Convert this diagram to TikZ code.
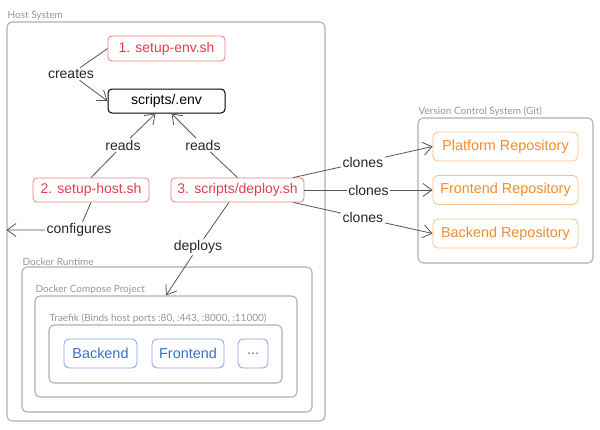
\documentclass[tikz,border=0pt]{standalone}
\usepackage{fontspec}
\setmainfont[Ligatures=NoCommon]{Liberation Sans}
\newfontfamily\boxfont{Lato}
\usetikzlibrary{arrows.meta, positioning}

\definecolor{scriptcolor}{RGB}{226,62,72}
\definecolor{scriptborder}{RGB}{238,125,130}
\definecolor{repocolor}{RGB}{240,140,45}
\definecolor{repoborder}{RGB}{250,190,140}
\definecolor{svccolor}{RGB}{58,110,192}
\definecolor{svcborder}{RGB}{130,160,220}
\definecolor{boxline}{RGB}{175,175,175}
\definecolor{boxtext}{RGB}{150,150,150}
\definecolor{edgecolor}{RGB}{85,85,85}

\begin{document}
\begin{tikzpicture}[
    x=1pt, y=-1pt,
    cont/.style={draw=boxline, line width=1.1pt, rounded corners=5pt, inner sep=0pt},
    contlabel/.style={anchor=south west, inner sep=1pt, text=boxtext, font=\boxfont\fontsize{10}{12}\selectfont},
    script/.style={draw=scriptborder, line width=0.8pt, rounded corners=4pt, text=scriptcolor, inner sep=0pt, font=\fontsize{14}{16}\selectfont},
    envbox/.style={draw=black, line width=1pt, rounded corners=4pt, inner sep=0pt, font=\fontsize{14}{16}\selectfont},
    repo/.style={draw=repoborder, line width=0.8pt, rounded corners=5pt, text=repocolor, inner sep=0pt, minimum width=145pt, minimum height=29pt, font=\fontsize{14.4}{16}\selectfont},
    svc/.style={draw=svcborder, line width=0.8pt, rounded corners=5pt, text=svccolor, inner sep=0pt, minimum height=29pt, font=\fontsize{14.4}{16}\selectfont},
    lbl/.style={inner sep=1.5pt, text=black!85, font=\fontsize{14}{16}\selectfont},
    edge/.style={draw=edgecolor, line width=0.8pt, -{Straight Barb[length=9pt, width=13pt]}}
]
    \useasboundingbox (0,0) rectangle (600,429);

    % containers
    \node[cont, minimum width=318pt, minimum height=399pt] (host) at (166,221.5) {};
    \node[contlabel] (hostlbl) at (host.north west) {Host System};
    \node[cont, minimum width=175pt, minimum height=145pt] (vcs) at (505.5,190.5) {};
    \node[contlabel] (vcslbl) at (vcs.north west) {Version Control System (Git)};
    \node[cont, minimum width=290pt, minimum height=145pt] (docker) at (167,339.5) {};
    \node[contlabel] (dockerlbl) at (docker.north west) {Docker Runtime};
    \node[cont, minimum width=262pt, minimum height=101pt] (compose) at (166,346.5) {};
    \node[contlabel] (composelbl) at (compose.north west) {Docker Compose Project};
    \node[cont, minimum width=233pt, minimum height=58pt] (traefik) at (165.5,354) {};
    \node[contlabel] (traefiklbl) at (traefik.north west) {Traefik (Binds host ports :80, :443, :8000, :11000)};

    % scripts
    \node[script, minimum width=117pt, minimum height=25pt] (setupenv) at (166.5,48.5) {1. setup-env.sh};
    \node[envbox, minimum width=117pt, minimum height=24pt] (envfile) at (166.5,101) {scripts/.env};
    \node[script, minimum width=116pt, minimum height=24pt] (sethost) at (91,190) {2. setup-host.sh};
    \node[script, minimum width=133pt, minimum height=24pt] (deploy) at (237.5,190) {3. scripts/deploy.sh};

    % repositories
    \node[repo] (platform) at (505.5,146.5) {Platform Repository};
    \node[repo] (frontrepo) at (505.5,190) {Frontend Repository};
    \node[repo] (backrepo) at (505.5,233.5) {Backend Repository};

    % services
    \node[svc, minimum width=73pt] (backend) at (100.5,353.5) {Backend};
    \node[svc, minimum width=72pt] (frontend) at (188,353.5) {Frontend};
    \node[svc, minimum width=30pt] (more) at (253,353.5) {.\kern0pt.\kern0pt.};

    % edge labels
    \node[lbl] (creates) at (71,74) {creates};
    \node[lbl] (readsa) at (123,145) {reads};
    \node[lbl] (readsb) at (203,145) {reads};
    \node[lbl] (configures) at (79,230) {configures};
    \node[lbl] (deploys) at (198,247) {deploys};

    % connectors
    \draw[edge] (setupenv.west) -- (creates) -- (envfile.west);
    \draw[edge] (sethost.north) -- (readsa) -- ([xshift=-11pt]envfile.south);
    \draw[edge] (deploy.north) -- (readsb) -- ([xshift=5pt]envfile.south);
    \draw[edge] (sethost.south) -- (configures) -- (host.west |- configures);
    \draw[edge] (deploy) -- (deploys) -- (compose.north);
    \draw[edge] (deploy) -- node[lbl, fill=white] (clonesa) {clones} (platform.west);
    \draw[edge] (deploy.east) -- node[lbl, fill=white] (clonesb) {clones} (frontrepo.west);
    \draw[edge] (deploy) -- node[lbl, fill=white] (clonesc) {clones} (backrepo.west);
\end{tikzpicture}
\end{document}
